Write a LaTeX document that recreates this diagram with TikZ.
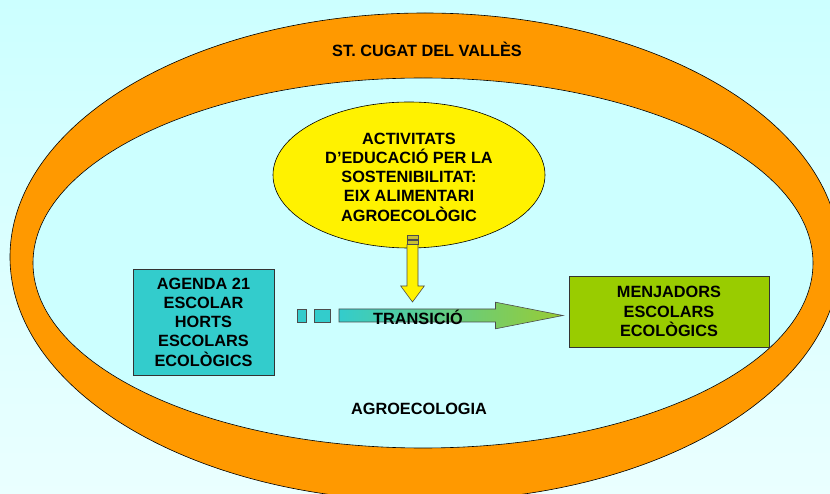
\documentclass[tikz,border=0pt]{standalone}
\usepackage{fontspec}
\setmainfont{Liberation Sans}
\usepackage{tikz}
\usetikzlibrary{shapes.geometric}
\definecolor{skyback}{HTML}{CCFFFF}
\definecolor{skylight}{HTML}{EAFFFF}
\definecolor{ringorange}{HTML}{FF9900}
\definecolor{boxteal}{HTML}{33CCCC}
\definecolor{boxgreen}{HTML}{99CC00}
\definecolor{arrowgreen}{HTML}{99CC33}

\begin{document}
\begin{tikzpicture}[x=1pt, y=-1pt, font=\fontsize{16.3}{19.3}\selectfont\bfseries]
      \clip (0,0) rectangle (830,494);
      \shade [top color=skyback, bottom color=skylight] (0,0) rectangle (830,494);

      {\tikzstyle{every node}=[ellipse, draw=black, line width=0.6pt, inner sep=0pt]
        \node [fill=ringorange, minimum width=830pt, minimum height=488pt] (town) at (425,257) {};
        \node [fill=skyback, minimum width=780pt, minimum height=370pt] (agro) at (423,263) {};
        \node [fill=yellow, minimum width=272pt, minimum height=146pt] (eix) at (409,175) {};
      }

      \node (townlbl) at (427,49) {ST. CUGAT DEL VALLÈS};
      \node (agrolbl) at (419,409) {AGROECOLOGIA};
      \node [align=center] (eixlbl) at (409,177)
        {ACTIVITATS\\D’EDUCACIÓ PER LA\\SOSTENIBILITAT:\\EIX ALIMENTARI\\AGROECOLÒGIC};

      {\tikzstyle{every node}=[draw=black!80, line width=0.8pt, align=center, inner sep=0pt]
        \node [fill=boxteal, minimum width=141pt, minimum height=106pt] (agenda) at (203.5,322)
          {AGENDA 21\\ESCOLAR\\HORTS\\ESCOLARS\\ECOLÒGICS};
        \node [fill=boxgreen, minimum width=200pt, minimum height=71pt] (menjadors) at (669,311.5)
          {MENJADORS\\ESCOLARS\\ECOLÒGICS};
      }

      % transition arrow
      \foreach \x/\w in {297.3/8.7, 314/16.7}
      {
        \filldraw [fill=boxteal, draw=black!70, line width=0.6pt] (\x,309) rectangle ++(\w,13);
      }
      \coordinate (trstart) at (339,315.5);
      \coordinate (trtip) at (563,315.5);
      \shade [left color=boxteal, right color=arrowgreen, draw=black!70, line width=0.6pt]
        (trstart) ++(0,-6.5) -- ++(156.5,0) -- ++(0,-6.8) -- (trtip)
        -- ++(-67.5,13.3) -- ++(0,-6.8) -- ++(-156.5,0) -- cycle;
      \node (trlbl) at (418,317) {TRANSICIÓ};

      % arrow down from the yellow ellipse
      \coordinate (dntip) at (412.5,302);
      \filldraw [fill=yellow, draw=black!70, line width=0.6pt]
        (dntip) -- ++(-11.8,-16) -- ++(6.3,0) -- ++(0,-41.3) -- ++(11,0)
        -- ++(0,41.3) -- ++(6.3,0) -- cycle;
      \foreach \y in {235, 240.3}
      {
        \filldraw [fill=yellow!75!black, draw=black!70, line width=0.6pt] (407,\y) rectangle ++(11,4.4);
      }
    \end{tikzpicture}
\end{document}
